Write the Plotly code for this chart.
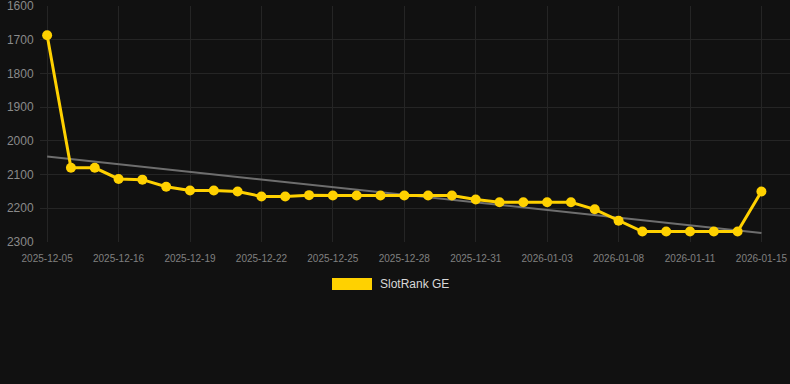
import numpy as np
import plotly.graph_objects as go

dates = [
    "2025-12-05", "2025-12-14", "2025-12-15", "2025-12-16", "2025-12-17",
    "2025-12-18", "2025-12-19", "2025-12-20", "2025-12-21", "2025-12-22",
    "2025-12-23", "2025-12-24", "2025-12-25", "2025-12-26", "2025-12-27",
    "2025-12-28", "2025-12-29", "2025-12-30", "2025-12-31", "2026-01-01",
    "2026-01-02", "2026-01-03", "2026-01-06", "2026-01-07", "2026-01-08",
    "2026-01-09", "2026-01-10", "2026-01-11", "2026-01-12", "2026-01-13",
    "2026-01-15",
]
rank = [
    1687, 2080, 2080, 2113, 2115, 2136, 2147, 2147, 2150, 2165,
    2165, 2161, 2162, 2162, 2162, 2162, 2162, 2162, 2174, 2182,
    2182, 2182, 2182, 2203, 2237, 2269, 2269, 2269, 2269, 2269,
    2150,
]
series_name = "SlotRank GE"
y_ticks = [1600, 1700, 1800, 1900, 2000, 2100, 2200, 2300]
x_ticks = dates[::3]

idx = np.arange(len(rank))
slope, intercept = np.polyfit(idx, rank, 1)
trend = [intercept, intercept + slope * idx[-1]]

GOLD = "#FFD100"
fig = go.Figure()
fig.add_trace(go.Scatter(
    x=[dates[0], dates[-1]], y=trend, mode="lines",
    line=dict(color="#6e6e6e", width=2), showlegend=False, hoverinfo="skip",
))
fig.add_trace(go.Scatter(
    x=dates, y=rank, mode="lines+markers", name=series_name,
    line=dict(color=GOLD, width=3), marker=dict(color=GOLD, size=10),
    showlegend=False,
))

# legend (manual)
PT, PH = 6, 236
fig.add_shape(type="rect", xref="paper", yref="paper",
              x0=(332 - 40) / 750, x1=(372 - 40) / 750,
              y0=-(278 - PT - PH) / PH, y1=-(290 - PT - PH) / PH,
              fillcolor=GOLD, line=dict(width=0))
fig.add_annotation(text=series_name, xref="paper", yref="paper",
                   x=(378 - 40) / 750, y=-(284 - PT - PH) / PH,
                   xanchor="left", yanchor="middle", showarrow=False,
                   font=dict(size=12, color="#d8d8d8"))

fig.update_layout(
    width=790, height=384,
    margin=dict(l=40, r=0, t=PT, b=384 - PT - PH),
    paper_bgcolor="#111111", plot_bgcolor="#111111",
    font=dict(family="Arial, Liberation Sans, sans-serif"),
    xaxis=dict(
        type="category", categoryorder="array", categoryarray=dates,
        range=[-0.3, 31.2], tickvals=x_ticks, ticktext=x_ticks,
        showgrid=True, gridcolor="#252525", gridwidth=1,
        zeroline=False, showline=False,
        ticks="outside", ticklen=7, tickcolor="rgba(0,0,0,0)",
        tickfont=dict(size=10, color="#808080"),
        ticklabeloverflow="allow",
    ),
    yaxis=dict(
        range=[2300, 1600], tickvals=y_ticks,
        showgrid=True, gridcolor="#252525", gridwidth=1,
        zeroline=False, showline=False,
        ticks="outside", ticklen=3, tickcolor="rgba(0,0,0,0)",
        tickfont=dict(size=12, color="#8a8a8a"),
        ticklabeloverflow="allow",
    ),
)

fig.write_html(
    "out.html",
    config={"displayModeBar": False},
    post_script="document.body.style.margin='0';document.body.style.background='#111111';",
)
